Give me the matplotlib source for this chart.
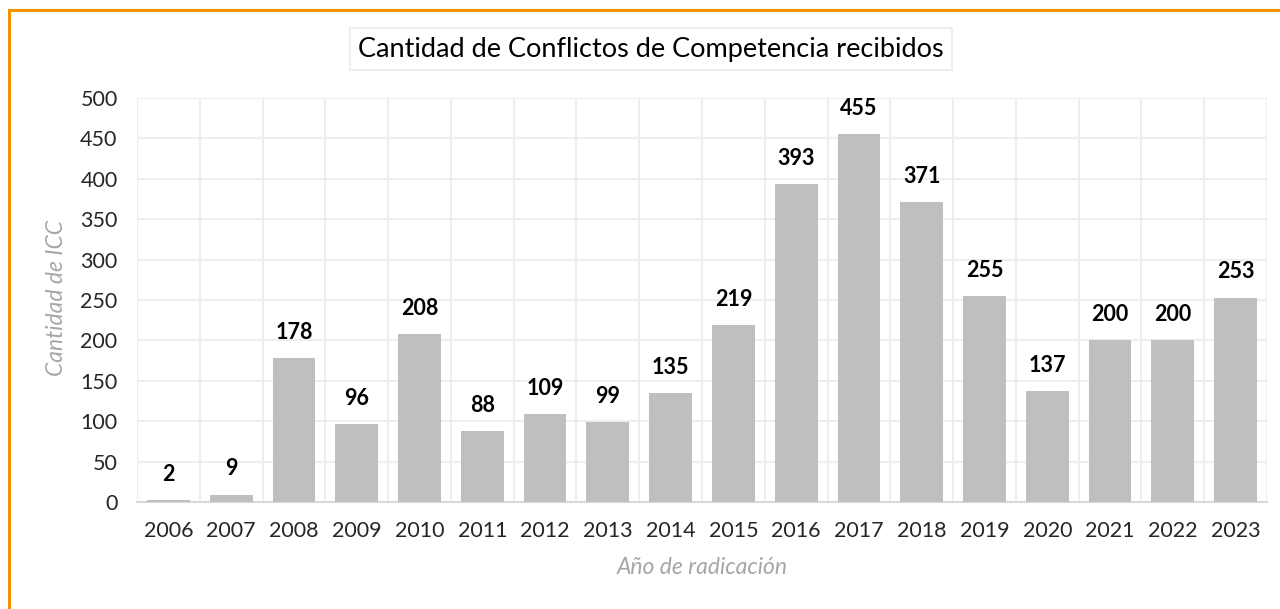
import matplotlib
matplotlib.use("Agg")
import matplotlib.pyplot as plt
from matplotlib.lines import Line2D
from matplotlib.patches import Arc
import numpy as np

years = ["2006", "2007", "2008", "2009", "2010", "2011", "2012", "2013", "2014",
         "2015", "2016", "2017", "2018", "2019", "2020", "2021", "2022", "2023"]
counts = [2, 9, 178, 96, 208, 88, 109, 99, 135, 219, 393, 455, 371, 255, 137, 200, 200, 253]
yticks = [0, 50, 100, 150, 200, 250, 300, 350, 400, 450, 500]

title = "Cantidad de Conflictos de Competencia recibidos"
xlabel = "Año de radicación"
ylabel = "Cantidad de ICC"

plt.rcParams['font.family'] = ['Lato', 'DejaVu Sans']

W, H = 1280, 609
fig = plt.figure(figsize=(W / 100, H / 100), dpi=100)
fig.patch.set_facecolor("white")

# faint watermark arcs in background
bg = fig.add_axes([0, 0, 1, 1], zorder=-10)
bg.set_xlim(0, W)
bg.set_ylim(H, 0)
bg.axis("off")
for r in np.arange(200, 420, 12):
    bg.add_patch(Arc((420, 800), 2 * r, 2 * r * 0.95, theta1=90, theta2=180,
                     color="#f1f1f1", lw=0.8))
for r in np.arange(150, 360, 12):
    bg.add_patch(Arc((1050, 820), 2 * r, 2 * r, theta1=20, theta2=160,
                     color="#f2f2f2", lw=0.8))

left, right = 137 / W, 1267 / W
bottom, top = 1 - 502 / H, 1 - 98 / H
ax = fig.add_axes([left, bottom, right - left, top - bottom])
ax.set_facecolor("none")

x = np.arange(len(years))
bars = ax.bar(x, counts, width=0.68, color="#bfbfbf", zorder=3)
for xi, v in zip(x, counts):
    ax.annotate(str(v), (xi, v), xytext=(0, 11), textcoords="offset points",
                ha="center", va="bottom", fontsize=15.5, fontweight="bold",
                color="black", zorder=4)

ax.set_xlim(-0.5, len(years) - 0.5)
ax.set_ylim(0, 500)
ax.set_yticks(yticks)
ax.set_yticklabels([str(t) for t in yticks])
ax.set_xticks(x)
ax.set_xticklabels(years)
ax.set_xticks(np.arange(-0.5, len(years), 1), minor=True)
ax.tick_params(axis="both", which="both", length=0, labelsize=15.5, colors="#262626")
ax.tick_params(axis="x", pad=14)
ax.tick_params(axis="y", pad=14)

ax.grid(axis="y", which="major", color="#eeeeee", lw=1.5, zorder=0)
ax.grid(axis="x", which="minor", color="#eeeeee", lw=1.5, zorder=0)
ax.grid(axis="x", which="major", visible=False)
for s in ["top", "right", "left"]:
    ax.spines[s].set_visible(False)
ax.spines["bottom"].set_color("#d9d9d9")
ax.spines["bottom"].set_linewidth(1.5)

fig.text(57 / W, 1 - 298 / H, ylabel, rotation=90, ha="center", va="center",
         fontsize=16.5, style="italic", color="#a6a6a6")
fig.text(702 / W, 1 - 567 / H, xlabel, ha="center", va="center",
         fontsize=16.5, style="italic", color="#a6a6a6")

fig.text(651 / W, 1 - 49 / H, title, ha="center", va="center", fontsize=19.5,
         color="black",
         bbox=dict(boxstyle="square,pad=0.3", facecolor="white",
                   edgecolor="#eeeeee", linewidth=1.5))

# orange border (top and left)
fig.add_artist(Line2D([9 / W, 1.0], [1 - 9.5 / H, 1 - 9.5 / H], color="#f39200",
                      lw=2.2, transform=fig.transFigure))
fig.add_artist(Line2D([9 / W, 9 / W], [1 - 9.5 / H, 0], color="#f39200",
                      lw=2.2, transform=fig.transFigure))

fig.savefig("out.png", dpi=100)
